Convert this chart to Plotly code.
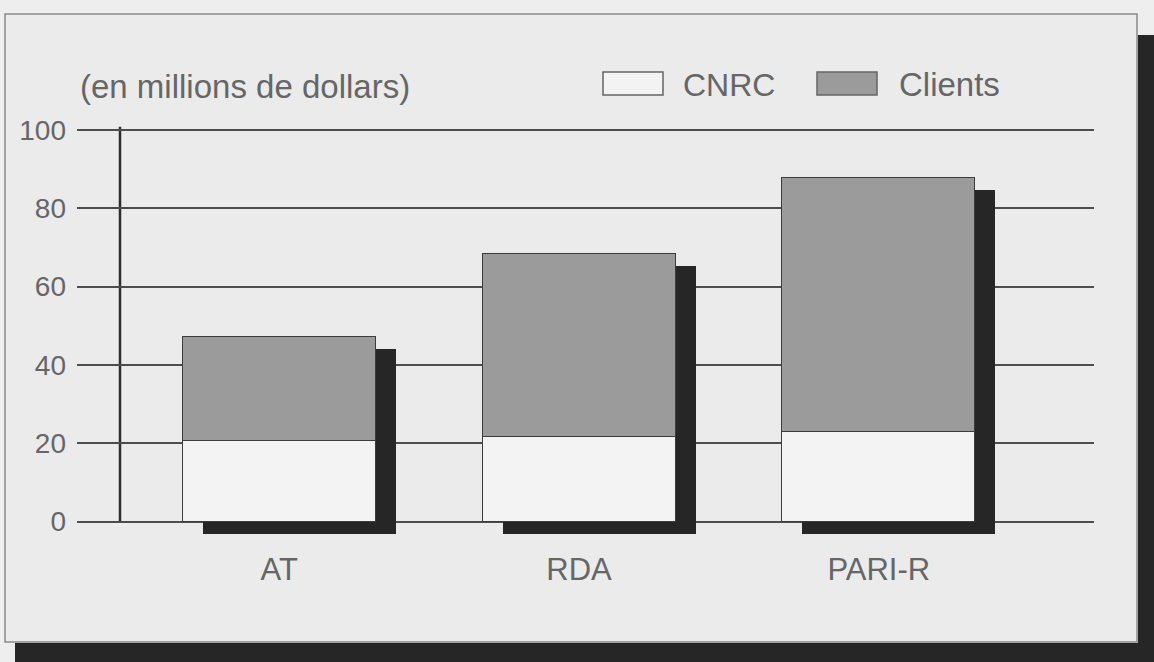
import plotly.graph_objects as go

# ---- data ----
categories = ["AT", "RDA", "PARI-R"]
cnrc = [20.6, 21.6, 22.8]
clients = [26.5, 46.7, 64.9]
totals = [a + b for a, b in zip(cnrc, clients)]
y_ticks = [0, 20, 40, 60, 80, 100]
title_text = "(en millions de dollars)"
legend_names = ["CNRC", "Clients"]

# ---- geometry (pixels) ----
W, H = 1154, 662
L, R = 77, 1094
T, B = 100, 555
PW, PH = R - L, B - T


def px(x):
    return (x - L) / PW


def py(y):
    return (B - y) / PH


# category axis: first centre at 279.25 px, spacing 299.75 px
ppu_x = 299.75
c0 = 279.25
x_range = [-(c0 - L) / ppu_x, (R - c0) / ppu_x]
# value axis: 0 at 521.5 px, 100 at 130 px
ppu_y = (521.5 - 130) / 100
y_range = [-(B - 521.5) / ppu_y, (521.5 - T) / ppu_y]
# shadow offset in px
sdx, sdy = 20, 12
x_range_sh = [x_range[0] - sdx / ppu_x, x_range[1] - sdx / ppu_x]
y_range_sh = [y_range[0] + sdy / ppu_y, y_range[1] + sdy / ppu_y]

bar_w = 193 / ppu_x

FONT = "Liberation Sans, Arial, sans-serif"
TXT = "#666666"
PANEL = "#ebebeb"
PAGE = "#eeeeee"
DARK = "#262626"
C_CNRC = "#f3f3f3"
C_CLI = "#9b9b9b"
OUTLINE = "#3c3c3c"
GRID = "#4d4d4d"

fig = go.Figure()

# shadows (main axes, shifted)
fig.add_trace(go.Bar(x=categories, y=totals, width=bar_w, marker=dict(color=DARK, line=dict(width=0)),
                     xaxis="x", yaxis="y", showlegend=False, hoverinfo="skip"))
# real bars (overlay axes)
fig.add_trace(go.Bar(x=categories, y=cnrc, name=legend_names[0], width=bar_w,
                     marker=dict(color=C_CNRC, line=dict(color=OUTLINE, width=1)),
                     xaxis="x2", yaxis="y2", showlegend=False))
fig.add_trace(go.Bar(x=categories, y=clients, name=legend_names[1], width=bar_w,
                     marker=dict(color=C_CLI, line=dict(color=OUTLINE, width=1)),
                     xaxis="x2", yaxis="y2", showlegend=False))

shapes = [
    # panel
    dict(type="rect", xref="paper", yref="paper", x0=px(5), x1=px(1137), y0=py(642), y1=py(14),
         fillcolor=PANEL, line=dict(color="#8a8a8a", width=1.5), layer="below"),
    # dark page shadow right and bottom
    dict(type="rect", xref="paper", yref="paper", x0=px(1138), x1=px(W + 5), y0=py(H + 5), y1=py(35),
         fillcolor=DARK, line=dict(width=0), layer="below"),
    dict(type="rect", xref="paper", yref="paper", x0=px(15), x1=px(W + 5), y0=py(H + 5), y1=py(643),
         fillcolor=DARK, line=dict(width=0), layer="below"),
    # vertical axis line
    dict(type="line", xref="paper", yref="y2", x0=px(120), x1=px(120), y0=0, y1=100.8,
         line=dict(color="#2e2e2e", width=2.5), layer="between"),
    # legend swatches
    dict(type="rect", xref="paper", yref="paper", x0=px(603), x1=px(663), y0=py(95), y1=py(72),
         fillcolor=C_CNRC, line=dict(color="#666", width=1.5)),
    dict(type="rect", xref="paper", yref="paper", x0=px(817), x1=px(877), y0=py(95), y1=py(72),
         fillcolor=C_CLI, line=dict(color="#666", width=1.5)),
]

annotations = [
    dict(text=title_text, xref="paper", yref="paper", x=px(78), y=py(86), xanchor="left", yanchor="middle",
         showarrow=False, font=dict(family=FONT, size=33, color=TXT)),
    dict(text=legend_names[0], xref="paper", yref="paper", x=px(681), y=py(85), xanchor="left", yanchor="middle",
         showarrow=False, font=dict(family=FONT, size=32, color=TXT)),
    dict(text=legend_names[1], xref="paper", yref="paper", x=px(897), y=py(85), xanchor="left", yanchor="middle",
         showarrow=False, font=dict(family=FONT, size=33, color=TXT)),
]

fig.update_layout(
    width=W, height=H,
    margin=dict(l=L, r=W - R, t=T, b=H - B),
    paper_bgcolor=PAGE, plot_bgcolor="rgba(0,0,0,0)",
    barmode="stack", bargap=0,
    font=dict(family=FONT, color=TXT),
    xaxis=dict(visible=False, range=x_range_sh, type="category", categoryarray=categories),
    yaxis=dict(visible=False, range=y_range_sh),
    xaxis2=dict(overlaying="x", type="category", categoryarray=categories, range=x_range,
                showgrid=False, zeroline=False, showline=False, ticks="",
                tickfont=dict(family=FONT, size=31, color=TXT), ticklabelstandoff=-7),
    yaxis2=dict(overlaying="y", range=y_range, tickvals=y_ticks, showgrid=True, gridcolor=GRID, gridwidth=1.5,
                zeroline=False, showline=False, ticks="", ticklabelstandoff=10,
                tickfont=dict(family=FONT, size=28, color=TXT)),
    shapes=shapes, annotations=annotations, showlegend=False,
)

fig.write_html(
    "out.html",
    config={"displayModeBar": False},
    post_script="document.body.style.margin='0';document.body.style.background='%s';"
                "document.body.style.overflow='hidden';" % PAGE,
)
